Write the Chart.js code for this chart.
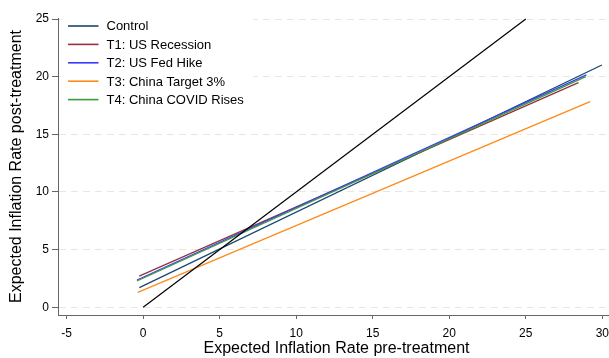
<!DOCTYPE html>
<html>
<head>
<meta charset="utf-8">
<script src="https://cdn.jsdelivr.net/npm/chart.js@4"></script>
<style>
  html, body { margin: 0; padding: 0; background: #fff; overflow: hidden; }
  #wrap { width: 616px; height: 358px; }
</style>
</head>
<body>
<div id="wrap"><canvas id="c" width="616" height="358"></canvas></div>
<script>
// ---- data (fitted lines: start / end points) ----
const seriesNames = ["Control", "T1: US Recession", "T2: US Fed Hike", "T3: China Target 3%", "T4: China COVID Rises"];
const xStart = [-0.25, -0.26, -0.40, -0.35, -0.41];
const yStart = [1.70, 2.71, 2.37, 1.30, 2.28];
const xEnd   = [29.97, 28.44, 28.96, 29.20, 28.92];
const yEnd   = [21.01, 19.48, 20.16, 17.84, 20.00];
const refX = [0, 25];
const refY = [0, 25];
const xTicks = [-5, 0, 5, 10, 15, 20, 25, 30];
const yTicks = [0, 5, 10, 15, 20, 25];
const xTitle = "Expected Inflation Rate pre-treatment";
const yTitle = "Expected Inflation Rate post-treatment";

const colors = ["#1a476f", "#90353b", "#3a3aff", "#ff8a1a", "#3c9b3c"];
const FONT = "'Liberation Sans', Arial, Helvetica, sans-serif";

const datasets = seriesNames.map((name, i) => ({
  label: name,
  data: [{x: xStart[i], y: yStart[i]}, {x: xEnd[i], y: yEnd[i]}],
  borderColor: colors[i],
  backgroundColor: colors[i],
  borderWidth: 1.3,
  pointRadius: 0,
  fill: false,
  tension: 0,
  order: 5 - i
}));
datasets.push({
  label: "45 degree",
  data: refX.map((x, i) => ({x: x, y: refY[i]})),
  borderColor: "#000000",
  borderWidth: 1.2,
  pointRadius: 0,
  fill: false,
  tension: 0,
  order: 0
});

const legendPlugin = {
  id: 'insideLegend',
  afterDraw(chart) {
    const ctx = chart.ctx;
    ctx.save();
    ctx.fillStyle = '#ffffff';
    ctx.fillRect(61, 13, 192, 96);
    const y0 = 26, dy = 18.4;
    ctx.font = "13px " + FONT;
    ctx.textBaseline = 'middle';
    ctx.textAlign = 'left';
    seriesNames.forEach((name, i) => {
      const y = y0 + i * dy;
      ctx.strokeStyle = colors[i];
      ctx.lineWidth = 1.6;
      ctx.beginPath();
      ctx.moveTo(68, y);
      ctx.lineTo(98.5, y);
      ctx.stroke();
      ctx.fillStyle = '#000000';
      ctx.fillText(name, 106.5, y + 0.8);
    });
    ctx.restore();
  }
};

new Chart(document.getElementById('c'), {
  type: 'line',
  data: { datasets: datasets },
  plugins: [legendPlugin],
  options: {
    responsive: false,
    devicePixelRatio: 1,
    animation: false,
    layout: { padding: { top: 18, left: 0, right: 0, bottom: 0 } },
    plugins: { legend: { display: false }, tooltip: { enabled: false } },
    scales: {
      x: {
        type: 'linear',
        min: -5.563,
        max: 30.83,
        afterBuildTicks: (s) => { s.ticks = xTicks.map(v => ({value: v})); },
        afterFit: (s) => { s.height = 43; },
        grid: { drawOnChartArea: false, drawTicks: true, tickLength: 4, tickColor: '#666666', tickWidth: 1 },
        border: { display: true, color: '#666666', width: 1 },
        ticks: { color: '#000', font: { family: FONT, size: 12 }, padding: 7, maxRotation: 0, autoSkip: false },
        title: { display: true, text: xTitle, color: '#000', font: { family: FONT, size: 16 }, padding: { top: 0, bottom: 0 } }
      },
      y: {
        type: 'linear',
        min: -0.668,
        max: 25.087,
        afterBuildTicks: (s) => { s.ticks = yTicks.map(v => ({value: v})); },
        afterFit: (s) => { s.width = 58; },
        grid: { drawOnChartArea: true, color: '#e6e6e6', lineWidth: 1, drawTicks: true, tickLength: 6, tickColor: '#666666', tickWidth: 1, tickBorderDash: [] },
        border: { display: true, color: '#666666', width: 1, dash: [7, 5] },
        ticks: { color: '#000', font: { family: FONT, size: 12 }, padding: 3, autoSkip: false },
        title: { display: true, text: yTitle, color: '#000', font: { family: FONT, size: 16 }, padding: { top: 7, bottom: 0 } }
      }
    }
  }
});
</script>
</body>
</html>
